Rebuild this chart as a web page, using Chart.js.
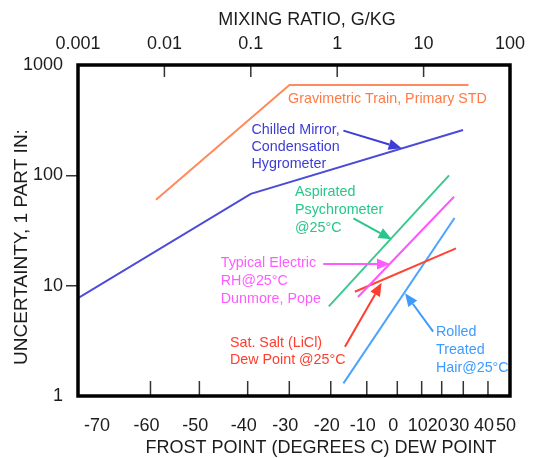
<!DOCTYPE html>
<html>
<head>
<meta charset="utf-8">
<script src="https://cdn.jsdelivr.net/npm/chart.js@4.4.0/dist/chart.umd.min.js"></script>
<style>
  html, body { margin: 0; padding: 0; background: #fff; }
  canvas { display: block; }
</style>
</head>
<body>
<canvas id="chart" width="533" height="458"></canvas>
<script>
// values (mixing ratio g/kg on x, "1 part in" on y)
const gravimetricX = [0.008, 0.28, 33];
const gravimetricY = [60, 660, 660];
const mirrorX = [0.001, 0.1, 28.6];
const mirrorY = [7.7, 68, 258];
const psychroX = [0.8, 19.7];
const psychroY = [6.5, 100];
const electricX = [1.74, 22.5];
const electricY = [7.9, 64];
const saltX = [1.6, 23.7];
const saltY = [8.8, 21.8];
const hairX = [1.18, 22.8];
const hairY = [1.3, 41];

// axis ticks
const mixingTicks = [0.001, 0.01, 0.1, 1, 10, 100];
const uncertaintyTicks = [1, 10, 100, 1000];
const dewPointLabels = [-70, -60, -50, -40, -30, -20, -10, 0, 10, 20, 30, 40, 50];
const dewPointMixing = [0.00185, 0.0069, 0.0254, 0.092, 0.279, 0.842, 2.2, 4.96, 9.5, 16.2, 28.8, 55.6, 100];

const FONT = "'Liberation Sans', Arial, sans-serif";
const INK = '#1c1c1c';

// callouts, anchored in data units
const notes = [
  { lines: ['Gravimetric Train, Primary STD'], x: 0.27, y: 492, gap: 17, color: '#ff7a45' },
  { lines: ['Chilled Mirror,', 'Condensation', 'Hygrometer'], x: 0.102, y: 258, gap: 17, color: '#3d3dd6' },
  { lines: ['Aspirated', 'Psychrometer', '@25\u00B0C'], x: 0.325, y: 71, gap: 18.3, color: '#26c78a' },
  { lines: ['Typical Electric', 'RH@25\u00B0C', 'Dunmore, Pope'], x: 0.0449, y: 15.9, gap: 18, color: '#ff5cff' },
  { lines: ['Sat. Salt (LiCl)', 'Dew Point @25\u00B0C'], x: 0.0574, y: 3.04, gap: 17.5, color: '#ff3d2e' },
  { lines: ['Rolled', 'Treated', 'Hair@25\u00B0C'], x: 13.9, y: 3.83, gap: 18.3, color: '#3d9bff' }
];
const arrows = [
  { from: [1.18, 254], to: [5.58, 176], color: '#3d3dd6' },
  { from: [1.54, 40.8], to: [4.27, 26.3], color: '#26c78a' },
  { from: [0.69, 15.7], to: [4.08, 15.7], color: '#ff5cff' },
  { from: [1.23, 2.8], to: [3.27, 10.6], color: '#ff3d2e' },
  { from: [12.9, 3.83], to: [6.1, 8.53], color: '#3d9bff' }
];

function pairs(xs, ys) {
  return xs.map((x, i) => ({ x: x, y: ys[i] }));
}

function series(xs, ys, color) {
  return {
    data: pairs(xs, ys),
    showLine: true,
    borderColor: color,
    borderWidth: 2,
    pointRadius: 0,
    tension: 0,
    xAxisID: 'x',
    yAxisID: 'y'
  };
}

// frame, inward tick marks, axis titles, callouts and arrows
const overlay = {
  id: 'overlay',
  afterDatasetsDraw(chart) {
    const { ctx, chartArea: a, scales } = chart;
    const sx = scales.x, sy = scales.y, sb = scales.xb;
    ctx.save();

    ctx.strokeStyle = '#333';
    ctx.lineWidth = 1.5;
    sx.ticks.forEach((t, i) => {
      if (i === 0 || i === sx.ticks.length - 1) return;
      const px = sx.getPixelForValue(t.value);
      ctx.beginPath(); ctx.moveTo(px, a.top); ctx.lineTo(px, a.top + 12); ctx.stroke();
    });
    sb.ticks.forEach((t, i) => {
      if (i === 0 || i === sb.ticks.length - 1) return;
      const px = sb.getPixelForValue(t.value);
      ctx.beginPath(); ctx.moveTo(px, a.bottom); ctx.lineTo(px, a.bottom - 15); ctx.stroke();
    });

    ctx.strokeStyle = '#000';
    ctx.lineWidth = 3.5;
    ctx.strokeRect(a.left, a.top, a.right - a.left, a.bottom - a.top);

    // arrows
    arrows.forEach(ar => {
      const x0 = sx.getPixelForValue(ar.from[0]), y0 = sy.getPixelForValue(ar.from[1]);
      const x1 = sx.getPixelForValue(ar.to[0]), y1 = sy.getPixelForValue(ar.to[1]);
      const ang = Math.atan2(y1 - y0, x1 - x0);
      const len = 13, half = 5.5;
      const bx = x1 - len * Math.cos(ang), by = y1 - len * Math.sin(ang);
      ctx.strokeStyle = ar.color;
      ctx.fillStyle = ar.color;
      ctx.lineWidth = 2;
      ctx.beginPath(); ctx.moveTo(x0, y0); ctx.lineTo(bx, by); ctx.stroke();
      ctx.beginPath();
      ctx.moveTo(x1, y1);
      ctx.lineTo(bx + half * Math.sin(ang), by - half * Math.cos(ang));
      ctx.lineTo(bx - half * Math.sin(ang), by + half * Math.cos(ang));
      ctx.closePath();
      ctx.fill();
    });

    // callout text
    ctx.font = '14.3px ' + FONT;
    ctx.textAlign = 'left';
    ctx.textBaseline = 'middle';
    notes.forEach(n => {
      const px = sx.getPixelForValue(n.x), py = sy.getPixelForValue(n.y);
      ctx.fillStyle = n.color;
      n.lines.forEach((line, i) => ctx.fillText(line, px, py + i * n.gap));
    });

    // axis titles
    ctx.fillStyle = INK;
    ctx.font = '18px ' + FONT;
    ctx.textAlign = 'center';
    ctx.fillText('MIXING RATIO, G/KG', a.left + 229, a.top - 45);
    ctx.fillText('FROST POINT (DEGREES C) DEW POINT', a.left + 243, a.bottom + 52);
    ctx.translate(a.left - 56, a.top + 182);
    ctx.rotate(-Math.PI / 2);
    ctx.font = '19px ' + FONT;
    ctx.fillText('UNCERTAINTY, 1 PART IN:', 0, 0);

    ctx.restore();
  }
};

const tickFont = { family: FONT, size: 18 };

new Chart(document.getElementById('chart'), {
  type: 'scatter',
  data: {
    datasets: [
      series(gravimetricX, gravimetricY, '#ff8a5c'),
      series(mirrorX, mirrorY, '#4b4bd8'),
      series(psychroX, psychroY, '#3cc98f'),
      series(electricX, electricY, '#ff55ff'),
      series(saltX, saltY, '#ff4433'),
      series(hairX, hairY, '#4da3ff')
    ]
  },
  options: {
    responsive: false,
    devicePixelRatio: 1,
    animation: false,
    layout: { padding: { left: 0, right: 23, top: 0, bottom: 0 } },
    plugins: { legend: { display: false }, tooltip: { enabled: false } },
    scales: {
      x: {
        type: 'logarithmic',
        position: 'top',
        min: 0.001,
        max: 100,
        grid: { display: false },
        border: { display: false },
        afterBuildTicks: s => { s.ticks = mixingTicks.map(v => ({ value: v })); },
        afterFit: s => { s.height = 65; s.paddingLeft = 0; s.paddingRight = 0; },
        ticks: {
          font: tickFont,
          color: INK,
          padding: 2,
          autoSkip: false,
          maxRotation: 0,
          callback: v => String(v)
        }
      },
      xb: {
        axis: 'x',
        type: 'logarithmic',
        position: 'bottom',
        min: 0.001,
        max: 100,
        grid: { display: false },
        border: { display: false },
        afterBuildTicks: s => { s.ticks = dewPointMixing.map(v => ({ value: v })); },
        afterFit: s => { s.height = 62; s.paddingLeft = 0; s.paddingRight = 0; },
        ticks: {
          font: tickFont,
          color: INK,
          padding: 11,
          labelOffset: -4,
          autoSkip: false,
          maxRotation: 0,
          callback: (v, i) => String(dewPointLabels[i])
        }
      },
      y: {
        type: 'logarithmic',
        position: 'left',
        min: 1,
        max: 1000,
        border: { display: false },
        grid: {
          drawOnChartArea: false,
          drawTicks: true,
          tickLength: 12,
          lineWidth: 1.5,
          color: c => (c.tick && (c.tick.value === 10 || c.tick.value === 100)) ? '#333' : 'rgba(0,0,0,0)'
        },
        afterBuildTicks: s => { s.ticks = uncertaintyTicks.map(v => ({ value: v })); },
        afterFit: s => { s.width = 78; s.paddingTop = 0; s.paddingBottom = 0; },
        ticks: {
          font: tickFont,
          color: INK,
          padding: 3,
          autoSkip: false,
          callback: v => String(v)
        }
      }
    }
  },
  plugins: [overlay]
});
</script>
</body>
</html>
